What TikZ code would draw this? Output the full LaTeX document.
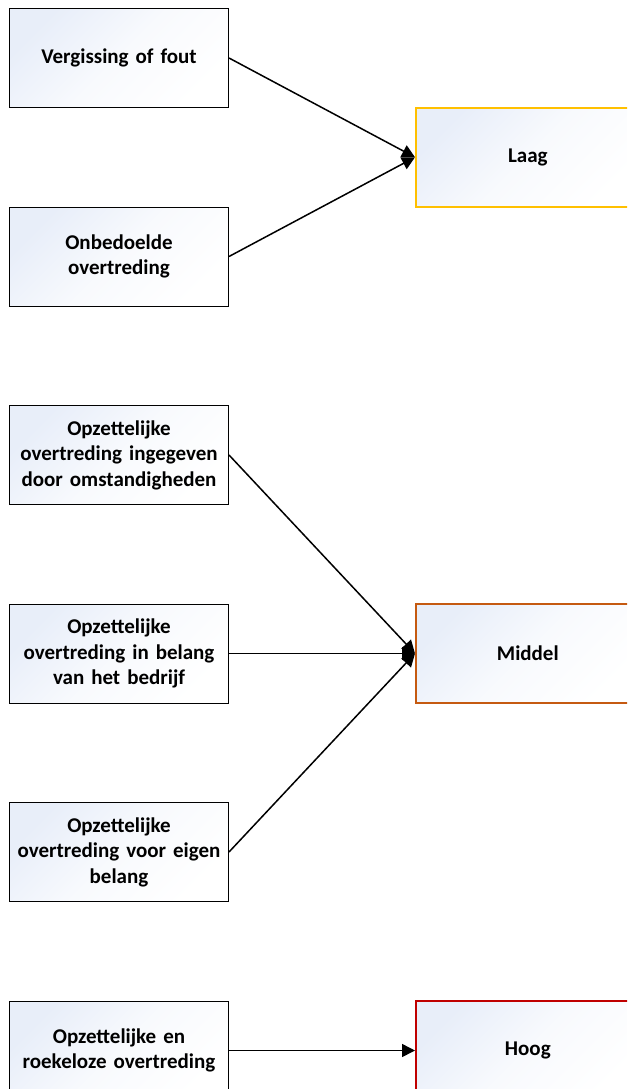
\documentclass[tikz,border=0pt]{standalone}
\usepackage{fontspec}
\setmainfont{Carlito}
\usetikzlibrary{arrows.meta, positioning, calc}

\definecolor{boxfill}{RGB}{232,238,249}
\definecolor{laagline}{RGB}{255,192,0}
\definecolor{middelline}{RGB}{197,90,17}
\definecolor{hoogline}{RGB}{192,0,0}

\begin{document}
\begin{tikzpicture}[x=1pt, y=1pt,
    % Styles
    cause/.style={draw=black, line width=1pt, left color=boxfill, right color=white, middle color=boxfill!30, shading angle=45,
        minimum width=219pt, minimum height=99pt, inner sep=2pt, align=center,
        font=\fontsize{21}{25.5}\selectfont\bfseries, text width=212pt},
    level/.style={cause, line width=1.6pt, minimum width=224pt},
    link/.style={-{Triangle[length=13pt, width=13pt]}, line width=1.5pt},
    node distance=98.5pt,
]
    % Frame of the page
    \clip (0,0) rectangle (627,-1089);

    % Causes - first one anchored, the rest below each other
    \node[cause, anchor=north west] (vergissing) at (9,-8) {Vergissing of fout};
    \node[cause, below=of vergissing] (onbedoeld) {Onbedoelde\\overtreding};
    \node[cause, below=of onbedoeld] (omstandig) {Opzettelijke\\overtreding ingegeven\\door omstandigheden};
    \node[cause, below=of omstandig] (bedrijf) {Opzettelijke\\overtreding in belang\\van het bedrijf};
    \node[cause, below=of bedrijf] (eigen) {Opzettelijke\\overtreding voor eigen\\belang};
    \node[cause, below=of eigen] (roekeloos) {Opzettelijke en\\roekeloze overtreding};

    % Levels - positioned relative to the causes
    \node[level, draw=laagline, right=186pt of $(vergissing.east)!0.5!(onbedoeld.east)$] (laag) {Laag};
    \node[level, draw=middelline, right=186pt of bedrijf] (middel) {Middel};
    \node[level, draw=hoogline, right=186pt of roekeloos] (hoog) {Hoog};

    % Arrows - using node anchors
    \draw[link] (vergissing.east) -- (laag.west);
    \draw[link] (onbedoeld.east) -- (laag.west);
    \draw[link] (omstandig.east) -- (middel.west);
    \draw[link] (bedrijf.east) -- (middel.west);
    \draw[link] (eigen.east) -- (middel.west);
    \draw[link] (roekeloos.east) -- (hoog.west);
\end{tikzpicture}
\end{document}
